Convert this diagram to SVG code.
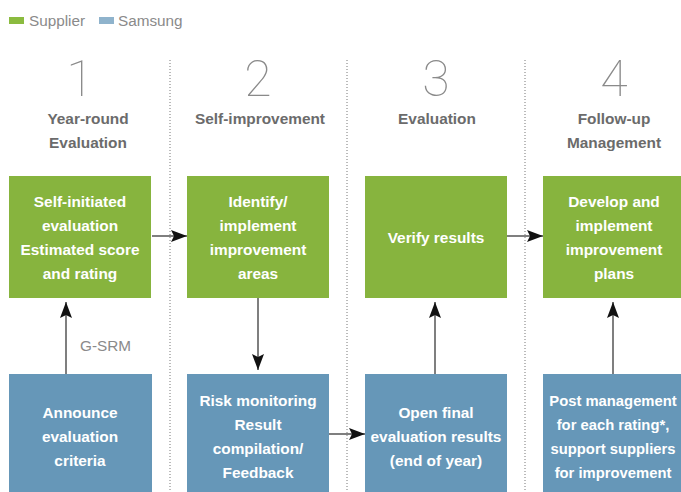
<svg xmlns="http://www.w3.org/2000/svg" width="681" height="492" viewBox="0 0 681 492">
<defs>
<style>
.g{fill:#87b43e}
.b{fill:#6697b8}
.bt{font-family:"Liberation Sans",Arial,sans-serif;font-weight:bold;font-size:15.4px;fill:#fff;text-anchor:middle}
.sm{font-size:14.8px}
.tt{font-family:"Liberation Sans",Arial,sans-serif;font-weight:bold;font-size:15.4px;fill:#6b6b6b;text-anchor:middle}
.num{font-family:Roboto,"Open Sans",sans-serif;font-weight:100;font-size:50px;fill:#8a8a8a;text-anchor:middle}
.lg{font-family:"Liberation Sans",Arial,sans-serif;font-size:15.3px;fill:#8a8a8a}
.div{stroke:#777;stroke-width:1;stroke-dasharray:1 2;fill:none}
.c{stroke:#555;stroke-width:1.5;fill:none;marker-end:url(#ah)}
</style>
<marker id="ah" markerUnits="userSpaceOnUse" markerWidth="16" markerHeight="12" refX="16" refY="6" orient="auto">
<path d="M0,0 L16,6 L0,12 L3,6 z" fill="#111"/>
</marker>
</defs>
<rect width="681" height="492" fill="#fff"/>
<g id="legend">
<rect x="9" y="17" width="15" height="7" fill="#8bbb3f"/>
<text class="lg" x="29" y="26">Supplier</text>
<rect x="99" y="17" width="15" height="7" fill="#8fb3cc"/>
<text class="lg" x="118" y="26">Samsung</text>
</g>
<g id="dividers">
<line class="div" x1="170" y1="60" x2="170" y2="492"/>
<line class="div" x1="347" y1="60" x2="347" y2="492"/>
<line class="div" x1="525" y1="60" x2="525" y2="492"/>
</g>
<g id="headers">
<text class="num" x="80" y="96">1</text>
<text class="num" x="258" y="96">2</text>
<text class="num" x="436" y="96">3</text>
<text class="num" x="614" y="96">4</text>
<text class="tt" x="88" y="124">Year-round</text>
<text class="tt" x="88" y="148">Evaluation</text>
<text class="tt" x="260" y="124">Self-improvement</text>
<text class="tt" x="437" y="124">Evaluation</text>
<text class="tt" x="614" y="124">Follow-up</text>
<text class="tt" x="614" y="148">Management</text>
</g>
<g id="n1">
<rect class="g" x="9" y="176" width="142" height="122"/>
<text class="bt" x="80" y="207">Self-initiated</text>
<text class="bt" x="80" y="231">evaluation</text>
<text class="bt" x="80" y="255">Estimated score</text>
<text class="bt" x="80" y="279">and rating</text>
</g>
<g id="n2">
<rect class="g" x="187" y="176" width="142" height="122"/>
<text class="bt" x="258" y="207">Identify/</text>
<text class="bt" x="258" y="231">implement</text>
<text class="bt" x="258" y="255">improvement</text>
<text class="bt" x="258" y="279">areas</text>
</g>
<g id="n3">
<rect class="g" x="365" y="176" width="142" height="122"/>
<text class="bt" x="436" y="243">Verify results</text>
</g>
<g id="n4">
<rect class="g" x="543" y="176" width="142" height="122"/>
<text class="bt" x="614" y="207">Develop and</text>
<text class="bt" x="614" y="231">implement</text>
<text class="bt" x="614" y="255">improvement</text>
<text class="bt" x="614" y="279">plans</text>
</g>
<g id="n5">
<rect class="b" x="9" y="374" width="143" height="118"/>
<text class="bt" x="80" y="418">Announce</text>
<text class="bt" x="80" y="442">evaluation</text>
<text class="bt" x="80" y="466">criteria</text>
</g>
<g id="n6">
<rect class="b" x="187" y="374" width="142" height="118"/>
<text class="bt" x="258" y="406">Risk monitoring</text>
<text class="bt" x="258" y="430">Result</text>
<text class="bt" x="258" y="454">compilation/</text>
<text class="bt" x="258" y="478">Feedback</text>
</g>
<g id="n7">
<rect class="b" x="365" y="374" width="142" height="118"/>
<text class="bt" x="436" y="418">Open final</text>
<text class="bt" x="436" y="442">evaluation results</text>
<text class="bt" x="436" y="466">(end of year)</text>
</g>
<g id="n8">
<rect class="b" x="543" y="374" width="142" height="118"/>
<text class="bt sm" x="613" y="406">Post management</text>
<text class="bt sm" x="613" y="430">for each rating*,</text>
<text class="bt sm" x="613" y="454">support suppliers</text>
<text class="bt sm" x="613" y="478">for improvement</text>
</g>
<g id="connectors">
<line class="c" x1="152" y1="236" x2="187" y2="236"/>
<line class="c" x1="258" y1="298" x2="258" y2="370"/>
<line class="c" x1="66" y1="374" x2="66" y2="302"/>
<text class="lg" x="80" y="351">G-SRM</text>
<line class="c" x1="329" y1="434" x2="365" y2="434"/>
<line class="c" x1="435" y1="374" x2="435" y2="302"/>
<line class="c" x1="507" y1="236" x2="543" y2="236"/>
<line class="c" x1="613" y1="374" x2="613" y2="302"/>
</g>
</svg>
